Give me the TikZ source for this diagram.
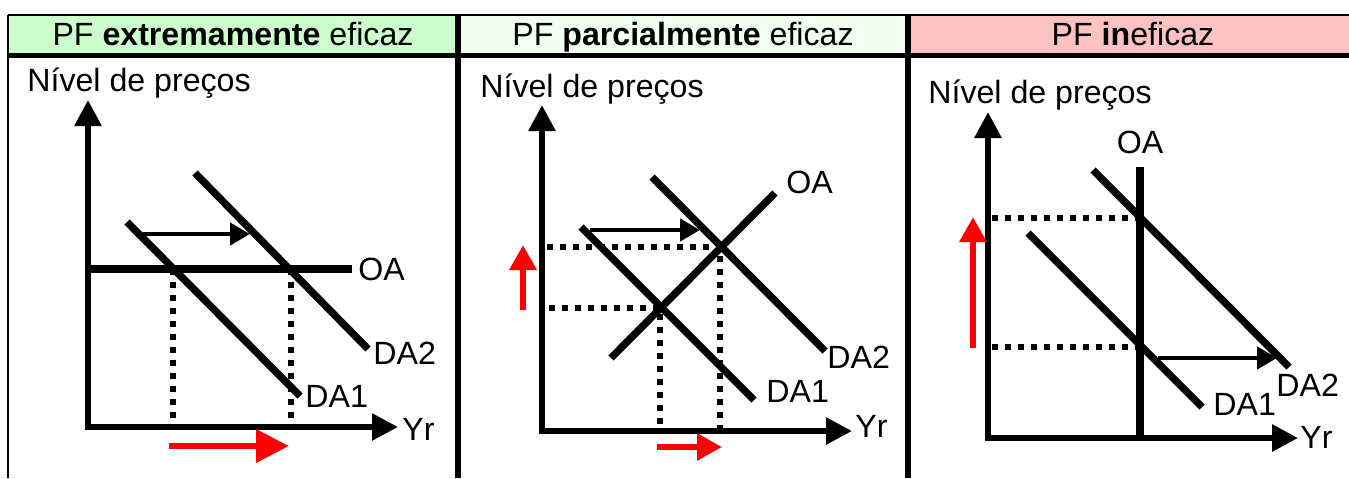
\documentclass[tikz,border=0pt]{standalone}
\usepackage{fontspec}
\setmainfont{Liberation Sans}
\usetikzlibrary{arrows.meta}
\definecolor{hgreen}{RGB}{204,255,204}
\definecolor{hmint}{RGB}{240,255,240}
\definecolor{hpink}{RGB}{255,194,194}
\tikzset{
  axisline/.style   = {line width=3.3pt, {Triangle[length=0.52cm,width=0.52cm]}-{Triangle[length=0.52cm,width=0.52cm]}},
  curveline/.style  = {line width=4.2pt},
  guideline/.style  = {line width=3pt, dash pattern=on 3.4pt off 4pt},
  shiftarrow/.style = {line width=2.6pt, -{Triangle[length=0.4cm,width=0.44cm]}},
  bigred/.style     = {red, line width=3.8pt, -{Triangle[length=0.66cm,width=0.64cm]}},
  smallred/.style   = {red, line width=3.8pt, -{Triangle[length=0.5cm,width=0.52cm]}},
  thinrule/.style   = {line width=1.2pt},
  thickrule/.style  = {line width=3.2pt},
  hdr/.style        = {font=\fontsize{18.3}{22}\selectfont, inner sep=0pt, anchor=base},
  txt/.style        = {font=\fontsize{18.3}{22}\selectfont, inner sep=0pt, anchor=base west},
}
\begin{document}
\begin{tikzpicture}[x=0.02cm, y=-0.02cm]
  \useasboundingbox (0,0) rectangle (1349,478);
  % header cells
  \fill[hgreen] (8,15) rectangle (458,55);
  \fill[hmint]  (458,15) rectangle (908,55);
  \fill[hpink]  (908,15) rectangle (1349,55);
  \node[hdr] (h1) at (233,45)  {PF \textbf{extremamente} eficaz};
  \node[hdr] (h2) at (683,45)  {PF \textbf{parcialmente} eficaz};
  \node[hdr] (h3) at (1133,45) {PF \textbf{in}eficaz};
  \draw[thinrule] (8,15) -- (1349,15);
  \draw[thinrule] (8,15) -- (8,478);
  \draw[thickrule] (8,55.5) -- (1349,55.5);
  \draw[thickrule] (458,15) -- (458,478);
  \draw[thickrule] (908,15) -- (908,478);

  % panel 1
  \coordinate (o1) at (88,427); \coordinate (y1) at (88,100); \coordinate (x1) at (398,427);
  \coordinate (oaL1) at (88,269);   \coordinate (oaR1) at (352,269);
  \coordinate (daA1) at (127,222);  \coordinate (daB1) at (300,396);
  \coordinate (dcA1) at (195,173);  \coordinate (dcB1) at (368,349);
  \coordinate (e1) at (173,269);    \coordinate (f1) at (291,269);
  \coordinate (sA1) at (143,234);   \coordinate (sB1) at (250,234);
  \coordinate (rA1) at (169,446);   \coordinate (rB1) at (289,446);
  \draw[axisline] (y1) -- (o1) -- (x1);
  \draw[guideline] (e1) -- (e1 |- o1);
  \draw[guideline] (f1) -- (f1 |- o1);
  \draw[curveline] (oaL1) -- (oaR1);
  \draw[curveline] (daA1) -- (daB1);
  \draw[curveline] (dcA1) -- (dcB1);
  \draw[shiftarrow] (sA1) -- (sB1);
  \draw[bigred] (rA1) -- (rB1);
  \node[txt] (py1) at (27,91)   {Nível de preços};
  \node[txt] (oa1) at (358,280) {OA};
  \node[txt] (dd1) at (373,364) {DA2};
  \node[txt] (d1)  at (305,407) {DA1};
  \node[txt] (yr1) at (402,440) {Yr};

  % panel 2
  \coordinate (o2) at (542,431); \coordinate (y2) at (542,105); \coordinate (x2) at (852,431);
  \coordinate (oaL2) at (611,358);  \coordinate (oaR2) at (775,193);
  \coordinate (daA2) at (581,227);  \coordinate (daB2) at (754,400);
  \coordinate (dcA2) at (652,177);  \coordinate (dcB2) at (825,351);
  \coordinate (e2) at (660,308);    \coordinate (f2) at (720,247);
  \coordinate (sA2) at (590,230);   \coordinate (sB2) at (700,230);
  \draw[axisline] (y2) -- (o2) -- (x2);
  \draw[guideline] (547,247) -- (f2) -- (f2 |- o2);
  \draw[guideline] (549,308) -- (e2) -- (e2 |- o2);
  \draw[curveline] (oaL2) -- (oaR2);
  \draw[curveline] (daA2) -- (daB2);
  \draw[curveline] (dcA2) -- (dcB2);
  \draw[shiftarrow] (sA2) -- (sB2);
  \draw[smallred] (523,310) -- (523,245);
  \draw[smallred] (657,447) -- (722,447);
  \node[txt] (py2) at (480,97)  {Nível de preços};
  \node[txt] (oa2) at (786,193) {OA};
  \node[txt] (dd2) at (827,368) {DA2};
  \node[txt] (d2)  at (766,402) {DA1};
  \node[txt] (yr2) at (855,437) {Yr};

  % panel 3
  \coordinate (o3) at (988,438); \coordinate (y3) at (988,112); \coordinate (x3) at (1298,438);
  \coordinate (oaT3) at (1140,167);
  \coordinate (daA3) at (1028,233); \coordinate (daB3) at (1202,407);
  \coordinate (dcA3) at (1093,170); \coordinate (dcB3) at (1289,367);
  \coordinate (e3) at (1140,347);   \coordinate (f3) at (1140,218);
  \coordinate (sA3) at (1158,358);  \coordinate (sB3) at (1277,358);
  \draw[axisline] (y3) -- (o3) -- (x3);
  \draw[guideline] (992,218) -- (f3);
  \draw[guideline] (992,347) -- (e3);
  \draw[curveline] (oaT3) -- (oaT3 |- o3);
  \draw[curveline] (daA3) -- (daB3);
  \draw[curveline] (dcA3) -- (dcB3);
  \draw[shiftarrow] (sA3) -- (sB3);
  \draw[smallred] (973,348) -- (973,217);
  \node[txt] (py3) at (928,103) {Nível de preços};
  \node[txt, anchor=base] (oa3) at (1140,153) {OA};
  \node[txt] (dd3) at (1276,396) {DA2};
  \node[txt] (d3)  at (1213,415) {DA1};
  \node[txt] (yr3) at (1300,448) {Yr};
\end{tikzpicture}
\end{document}
